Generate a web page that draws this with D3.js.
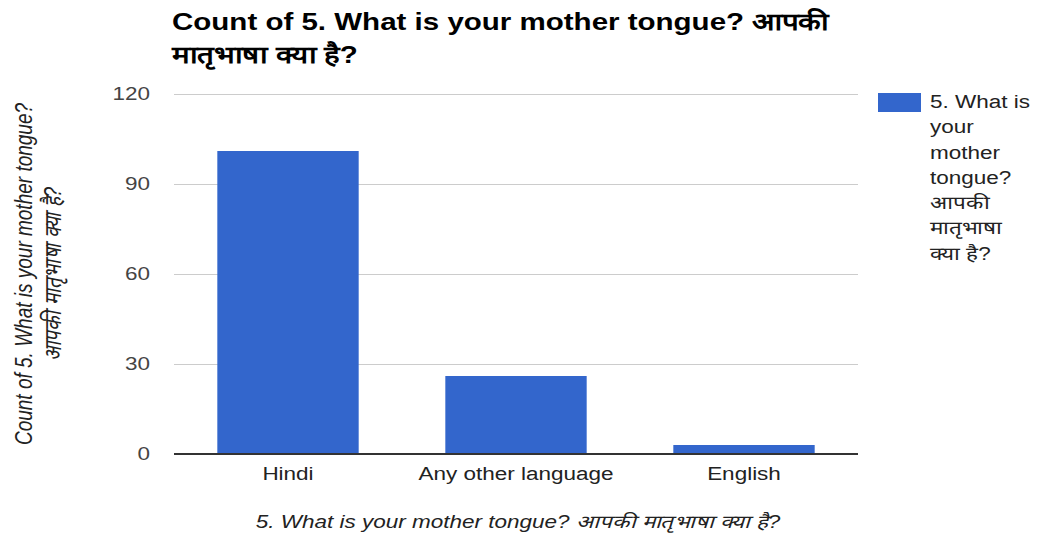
<!DOCTYPE html>
<html>
<head>
<meta charset="utf-8">
<script src="https://cdn.jsdelivr.net/npm/d3@7"></script>
<style>
  html, body { margin: 0; padding: 0; background: #fff; }
  svg { display: block; font-family: "Liberation Sans", Arial, sans-serif; }
</style>
</head>
<body>
<svg id="chart" width="1038" height="543"></svg>
<script>
// Survey responses: count per mother tongue
const categories = ["Hindi", "Any other language", "English"];
const counts = [101, 26, 3];
const yTicks = [0, 30, 60, 90, 120];
const titleLines = ["Count of 5. What is your mother tongue? आपकी", "मातृभाषा क्या है?"];
const yTitleLines = ["Count of 5. What is your mother tongue?", "आपकी मातृभाषा क्या है?"];
const xTitle = "5. What is your mother tongue? आपकी मातृभाषा क्या है?";
const legendLines = ["5. What is", "your", "mother", "tongue?", "आपकी", "मातृभाषा", "क्या है?"];

const svg = d3.select("#chart");
const plot = { left: 174, right: 858, top: 94, bottom: 454 };
const barColor = "#3366cc";
const sx = 1.25; // wide type: horizontal glyph stretch

const x = d3.scaleBand()
  .domain(categories)
  .range([plot.left, plot.right])
  .paddingInner(0.38)
  .paddingOuter(0.19);

const y = d3.scaleLinear()
  .domain([0, 120])
  .range([plot.bottom, plot.top]);

// Text placed at (px, py) and stretched horizontally
function wideText(px, py, k = sx) {
  return svg.append("g")
    .attr("transform", `translate(${px},${py}) scale(${k},1)`)
    .append("text");
}

// Horizontal gridlines and y tick labels
const yAxis = d3.axisLeft(y)
  .tickValues(yTicks)
  .tickSize(-(plot.right - plot.left))
  .tickFormat(d3.format("d"));

const yg = svg.append("g")
  .attr("transform", `translate(${plot.left},0)`)
  .call(yAxis);
yg.select(".domain").remove();
yg.selectAll(".tick line").attr("stroke", "#cccccc").attr("stroke-width", 1);
yg.selectAll(".tick text")
  .attr("x", -24 / sx)
  .attr("transform", `scale(${sx},1)`)
  .attr("fill", "#444")
  .style("font-size", "18px")
  .style("font-family", "'Liberation Sans', Arial, sans-serif");

// Bars
svg.append("g").selectAll("rect")
  .data(categories.map((c, i) => ({ c, v: counts[i] })))
  .join("rect")
  .attr("x", d => x(d.c))
  .attr("y", d => y(d.v))
  .attr("width", x.bandwidth())
  .attr("height", d => y(0) - y(d.v))
  .attr("fill", barColor);

// Baseline
svg.append("line")
  .attr("x1", plot.left).attr("x2", plot.right)
  .attr("y1", y(0)).attr("y2", y(0))
  .attr("stroke", "#333").attr("stroke-width", 2);

// Category labels
const xAxis = d3.axisBottom(x).tickSize(0).tickPadding(13);
const xg = svg.append("g")
  .attr("transform", `translate(0,${plot.bottom})`)
  .call(xAxis);
xg.select(".domain").remove();
xg.selectAll(".tick text")
  .attr("transform", `scale(${sx},1)`)
  .attr("fill", "#222")
  .style("font-size", "18px")
  .style("font-family", "'Liberation Sans', Arial, sans-serif");

// Title
wideText(172, 30, 1.23)
  .attr("fill", "#000")
  .style("font-size", "24px")
  .style("font-weight", "bold")
  .selectAll("tspan")
  .data(titleLines)
  .join("tspan")
  .attr("x", 0)
  .attr("dy", (d, i) => i === 0 ? 0 : 33)
  .text(d => d);

// Y axis title (rotated, two lines)
const yTitle = svg.append("g")
  .attr("transform", `translate(32,${(plot.top + plot.bottom) / 2}) scale(${sx},1) rotate(-90)`)
  .append("text")
  .attr("text-anchor", "middle")
  .attr("fill", "#222")
  .style("font-size", "19px")
  .style("font-style", "italic");
yTitle.selectAll("tspan")
  .data(yTitleLines)
  .join("tspan")
  .attr("x", 0)
  .attr("dy", (d, i) => i === 0 ? 0 : 23)
  .text(d => d);

// X axis title
wideText((plot.left + plot.right) / 2 + 2, 528)
  .attr("text-anchor", "middle")
  .attr("fill", "#222")
  .style("font-size", "18px")
  .style("font-style", "italic")
  .text(xTitle);

// Legend
svg.append("rect")
  .attr("x", 878).attr("y", 93)
  .attr("width", 43).attr("height", 19)
  .attr("fill", barColor);
wideText(930, 0)
  .attr("fill", "#222")
  .style("font-size", "18px")
  .selectAll("tspan")
  .data(legendLines)
  .join("tspan")
  .attr("x", 0)
  .attr("y", (d, i) => 108 + i * 25.3)
  .text(d => d);
</script>
</body>
</html>
